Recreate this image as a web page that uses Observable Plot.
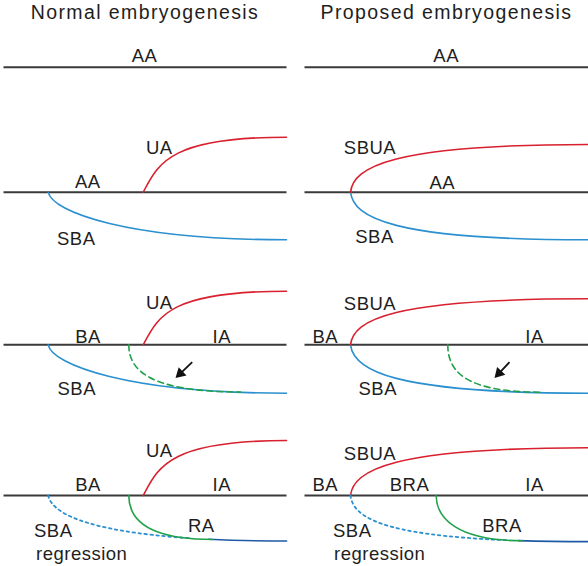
<!DOCTYPE html>
<html><head><meta charset="utf-8">
<script src="https://cdn.jsdelivr.net/npm/d3@7"></script>
<script src="https://cdn.jsdelivr.net/npm/@observablehq/plot@0.6"></script>
<style>
body{margin:0;background:#fff}
svg{display:block}
.ttl text{letter-spacing:1.4px}
.lbl text{letter-spacing:0.5px}
</style>
</head><body><div id="chart"></div>
<script>
// ---- panel structure ----
const titles = ["Normal embryogenesis", "Proposed embryogenesis"];
const titleX = [144.5, 446];
const titleY = 18.5;
const stageY = [66.7, 191.7, 344.3, 495];     // trunk line of each stage (top → bottom)
const trunkStart = [3, 304];
const trunkEnd = [286, 588];

// ---- branch geometry ----
const uaX = 142.7, sbuaX = 350, sbaLX = 47.7, sbaRX = 350;
const raX = 128.3, iaX = 447.3, braX = 435.7;
const uaRise   = [55, 53.6, 55];
const sbuaRise = [47.7, 46, 47.7];
const sbaDepthL = [47.6, 48.4, 45.5];
const sbaDepthR = [47.6, 48.4, 46.2];
const regressEnd = [190, 507];     // dotted (regressing) SBA ends
const joinX = [212, 522];          // RA / BRA join the remnant

// ---- arrows (tail → tip) ----
const arrowTail = [[191.7, 361.7], [509, 361.7]];
const arrowTip  = [[175, 377.6], [494, 377.6]];

// ---- labels ----
const labelText = ["AA","AA",
  "UA","AA","SBA","SBUA","AA","SBA",
  "UA","BA","IA","SBA","SBUA","BA","IA","SBA",
  "UA","BA","IA","RA","SBUA","BA","BRA","IA","BRA"];
const labelX = [144,445.7,
  158.8,87.3,75.8,369.5,441.8,374,
  158.8,87.5,221.3,76.3,369.5,324.8,534,377.3,
  158.8,87.5,221.3,200.8,369.5,324.8,409,534,501.5];
const labelY = [61.7,61.7,
  153.3,187.7,244,153.3,188.3,242.7,
  308.3,342.3,342.3,394,309.3,342.3,342.3,394,
  456.7,490.7,490.7,531.7,459.3,490.7,490.7,490.7,531.7];
const regText = ["SBA","regression","SBA","regression"];
const regX = [33.5, 35.5, 332.5, 333.5];
const regY = [536.7, 559.3, 536.7, 559.3];

// ---- cubic helpers ----
const cubic = (x0, y0, c1dx, c1dy, c2dx, w, h) =>
  [[x0, y0], [x0 + c1dx, y0 + c1dy], [x0 + c2dx, y0 + h], [x0 + w, y0 + h]];
const lerp = (a, b, t) => [a[0] + (b[0] - a[0]) * t, a[1] + (b[1] - a[1]) * t];
function split(P, t) {
  const [a, b, c, d] = P;
  const ab = lerp(a, b, t), bc = lerp(b, c, t), cd = lerp(c, d, t);
  const abc = lerp(ab, bc, t), bcd = lerp(bc, cd, t), m = lerp(abc, bcd, t);
  return [[a, ab, abc, m], [m, bcd, cd, d]];
}
function at(P, t, k) { const u = 1 - t; return u*u*u*P[0][k] + 3*u*u*t*P[1][k] + 3*u*t*t*P[2][k] + t*t*t*P[3][k]; }
function tForX(P, x) { let lo = 0, hi = 1; for (let i = 0; i < 50; i++) { const m = (lo + hi) / 2; if (at(P, m, 0) < x) lo = m; else hi = m; } return (lo + hi) / 2; }
const before = (P, x) => split(P, tForX(P, x))[0];
const after = (P, x) => split(P, tForX(P, x))[1];
const yOn = (P, x) => at(P, tForX(P, x), 1);

// custom curve: draws each 4-point group as one cubic Bézier
const bezier = (context) => {
  let pts = [];
  return {
    areaStart() {}, areaEnd() {},
    lineStart() { pts = []; },
    point(x, y) { pts.push([x, y]); },
    lineEnd() {
      if (pts.length < 4) return;
      context.moveTo(pts[0][0], pts[0][1]);
      context.bezierCurveTo(pts[1][0], pts[1][1], pts[2][0], pts[2][1], pts[3][0], pts[3][1]);
    }
  };
};

const series = {red: [], blue: [], greenDash: [], blueDot: [], greenSolid: [], darkBlue: []};
let sid = 0;
function add(kind, P) { const id = sid++; P.forEach(([x, y]) => series[kind].push({x, y, id})); }

const uaCurve   = (y, r) => cubic(uaX, y, 15, -28, 25, trunkEnd[0] - uaX, -r);
const sbuaCurve = (y, r) => cubic(sbuaX, y, 3, -25, 40, trunkEnd[1] - sbuaX, -r);
const sbaLCurve = (y, d, c2) => cubic(sbaLX, y, 4, 20, c2, trunkEnd[0] - sbaLX, d);
const sbaRCurve = (y, d) => cubic(sbaRX, y, 3, 25, 40, trunkEnd[1] - sbaRX, d);

for (let s = 1; s < 4; s++) {
  const y = stageY[s];
  add("red", uaCurve(y, uaRise[s - 1]));
  add("red", sbuaCurve(y, sbuaRise[s - 1]));
  if (s < 3) {
    add("blue", sbaLCurve(y, sbaDepthL[s - 1], 80));
    add("blue", sbaRCurve(y, sbaDepthR[s - 1]));
  }
}
// stage 3: new vessels sprouting (dashed)
add("greenDash", cubic(raX, stageY[2], 0, 25, 20, 111.7, 47.2));
add("greenDash", cubic(iaX, stageY[2], 0, 25, 15, 92.7, 47.4));
// stage 4: SBA regresses, RA / BRA take over
const y4 = stageY[3];
const sbaL4 = sbaLCurve(y4, sbaDepthL[2], 50);
const sbaR4 = sbaRCurve(y4, sbaDepthR[2]);
add("blueDot", before(sbaL4, regressEnd[0]));
add("blueDot", before(sbaR4, regressEnd[1]));
add("greenSolid", cubic(raX, y4, 0, 23, 18, joinX[0] - raX, yOn(sbaL4, joinX[0]) - y4));
add("greenSolid", cubic(braX, y4, 0, 22, 20, joinX[1] - braX, yOn(sbaR4, joinX[1]) - y4));
add("darkBlue", after(sbaL4, joinX[0] - 4));
add("darkBlue", after(sbaR4, joinX[1] - 4));

const trunks = [];
stageY.forEach(y => [0, 1].forEach(p => trunks.push({x1: trunkStart[p], x2: trunkEnd[p], y})));

const labels = labelText.map((t, i) => ({t, x: labelX[i], y: labelY[i]}));
const regLabels = regText.map((t, i) => ({t, x: regX[i], y: regY[i]}));
const titleRows = titles.map((t, i) => ({t, x: titleX[i], y: titleY}));

const headR = 4.2;
const arrows = arrowTail.map((a, i) => {
  const b = arrowTip[i];
  const dx = b[0] - a[0], dy = b[1] - a[1], len = Math.hypot(dx, dy);
  const ux = dx / len, uy = dy / len;
  const h = 2 * Math.sqrt((Math.PI * headR * headR) / (Math.sqrt(3) * 3));
  return {x1: a[0], y1: a[1], x2: b[0] - ux * h, y2: b[1] - uy * h,
          cx: b[0] - ux * h, cy: b[1] - uy * h,
          rot: Math.atan2(dy, dx) * 180 / Math.PI + 90};
});

const RED = "#d8202e", BLUE = "#2a90cf", GREEN = "#22a04a", DARK = "#1f5aa6", INK = "#3a3a3a", TXT = "#1e1e1e";
const font = "Liberation Sans, Arial, Helvetica, sans-serif";

const chart = Plot.plot({
  width: 588, height: 566,
  margin: 0,
  x: {domain: [0, 588], range: [0, 588], axis: null},
  y: {domain: [0, 566], range: [0, 566], axis: null},
  style: {fontFamily: font, background: "#fff"},
  marks: [
    Plot.link(trunks, {x1: "x1", x2: "x2", y1: "y", y2: "y", stroke: INK, strokeWidth: 2}),
    Plot.line(series.blue, {x: "x", y: "y", z: "id", stroke: BLUE, strokeWidth: 1.6, curve: bezier}),
    Plot.line(series.red, {x: "x", y: "y", z: "id", stroke: RED, strokeWidth: 1.6, curve: bezier}),
    Plot.line(series.blueDot, {x: "x", y: "y", z: "id", stroke: BLUE, strokeWidth: 1.8, strokeDasharray: "2.5,3.5", curve: bezier}),
    Plot.line(series.darkBlue, {x: "x", y: "y", z: "id", stroke: DARK, strokeWidth: 1.7, curve: bezier}),
    Plot.line(series.greenSolid, {x: "x", y: "y", z: "id", stroke: GREEN, strokeWidth: 1.6, curve: bezier}),
    Plot.line(series.greenDash, {x: "x", y: "y", z: "id", stroke: GREEN, strokeWidth: 1.6, strokeDasharray: "6,4", curve: bezier}),
    Plot.link(arrows, {x1: "x1", y1: "y1", x2: "x2", y2: "y2", stroke: "#111", strokeWidth: 1.8}),
    Plot.dot(arrows, {x: "cx", y: "cy", symbol: "triangle", r: headR, fill: "#111", stroke: "none", rotate: "rot"}),
    Plot.text(titleRows, {x: "x", y: "y", text: "t", fontSize: 19.5, fill: TXT, lineAnchor: "bottom", textAnchor: "middle", className: "ttl"}),
    Plot.text(labels, {x: "x", y: "y", text: "t", fontSize: 18.5, fill: TXT, lineAnchor: "bottom", textAnchor: "middle", className: "lbl"}),
    Plot.text(regLabels, {x: "x", y: "y", text: "t", fontSize: 18.5, fill: TXT, lineAnchor: "bottom", textAnchor: "start", className: "lbl"})
  ]
});
document.getElementById("chart").appendChild(chart);
</script>
</body></html>
